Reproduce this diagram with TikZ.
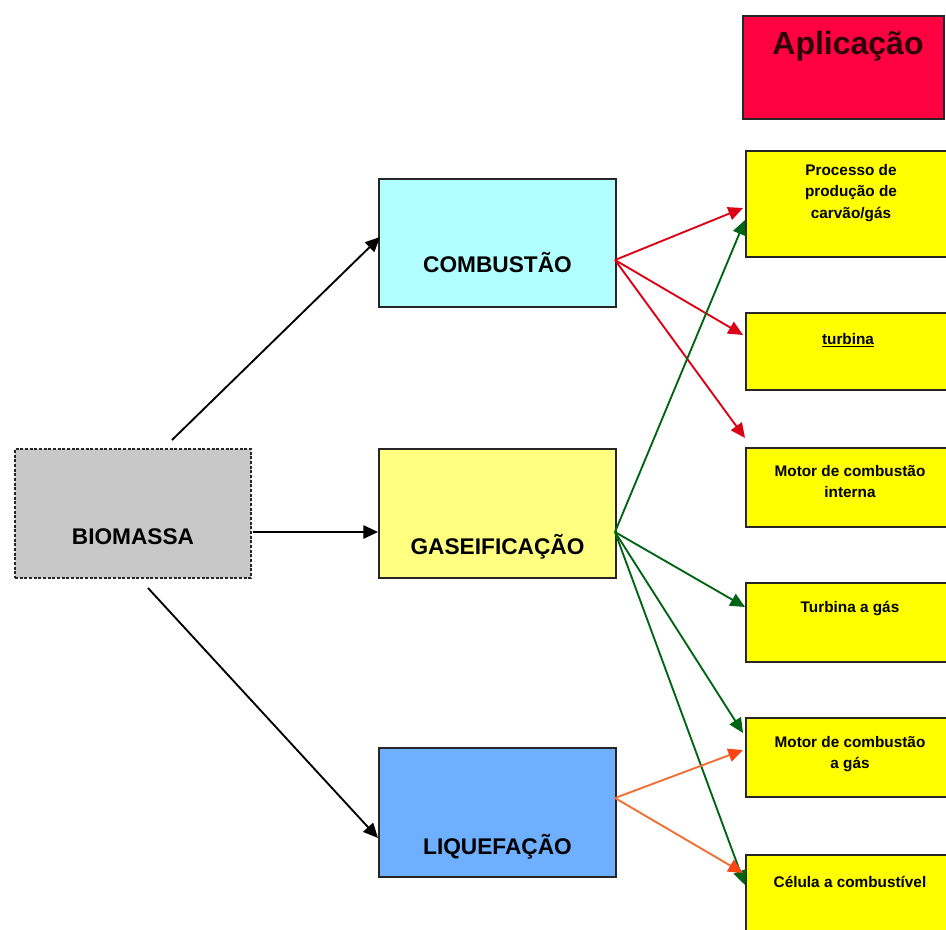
\documentclass[tikz,border=0pt]{standalone}
\usepackage{fontspec}
\setmainfont{Liberation Sans}
\usetikzlibrary{arrows.meta}
\definecolor{aplred}{RGB}{255,0,64}
\definecolor{appyellow}{RGB}{255,255,0}
\definecolor{combcyan}{RGB}{178,255,255}
\definecolor{gasyellow}{RGB}{255,255,128}
\definecolor{liqblue}{RGB}{110,175,255}
\definecolor{biogray}{RGB}{200,200,200}
\definecolor{arrgreen}{RGB}{0,100,20}
\definecolor{arrred}{RGB}{220,0,20}
\definecolor{arrorange}{RGB}{240,110,50}
\definecolor{orangehead}{RGB}{250,70,20}
\definecolor{aplink}{RGB}{45,0,10}
\begin{document}
\begin{tikzpicture}[x=0.75pt,y=-0.75pt,
  box/.style={draw=black!85, line width=1.3pt, rectangle, inner sep=0pt},
  bigtext/.style={font=\fontsize{17}{20}\selectfont\bfseries, inner sep=0pt},
  smalltext/.style={font=\fontsize{11.5}{16}\selectfont\bfseries, align=center, inner sep=0pt},
  conn/.style={line width=1.4pt, -{Triangle[length=11pt,width=10pt]}},
  blackconn/.style={conn, black},
  redconn/.style={conn, arrred},
  greenconn/.style={conn, arrgreen},
  orangeconn/.style={line width=1.4pt, arrorange, -{Triangle[length=11pt,width=10pt,color=orangehead]}},
]
\useasboundingbox (0,0) rectangle (946,929);
\clip (0,0) rectangle (946,929);
\fill[white] (0,0) rectangle (946,929);

% left column
\node[box, fill=biogray, dash pattern=on 2.2pt off 1.3pt, line width=2pt, minimum width=236*0.75pt, minimum height=129*0.75pt] (bio) at (133,513.5) {};
\node[bigtext] (bioT) at (133,537) {BIOMASSA};

% middle column
\node[box, fill=combcyan, minimum width=237*0.75pt, minimum height=128*0.75pt] (comb) at (497.5,243) {};
\node[bigtext] (combT) at (497.5,263) {COMBUSTÃO};
\node[box, fill=gasyellow, minimum width=237*0.75pt, minimum height=129*0.75pt] (gas) at (497.5,513.5) {};
\node[bigtext] (gasT) at (497.5,547) {GASEIFICAÇÃO};
\node[box, fill=liqblue, minimum width=237*0.75pt, minimum height=129*0.75pt] (liq) at (497.5,812.5) {};
\node[bigtext] (liqT) at (497.5,847) {LIQUEFAÇÃO};

% right column
\node[box, fill=aplred, minimum width=201*0.75pt, minimum height=103*0.75pt] (apl) at (843.5,67.5) {};
\node[font=\fontsize{24}{28}\selectfont\bfseries, text=aplink, inner sep=0pt] (aplT) at (848,46) {Aplicação};

\node[box, fill=appyellow, minimum width=234*0.75pt, minimum height=106*0.75pt] (proc) at (863,204) {};
\node[smalltext] (procT) at (851,193) {Processo de\\produção de\\carvão/gás};
\node[box, fill=appyellow, minimum width=234*0.75pt, minimum height=77*0.75pt] (turb) at (863,351.5) {};
\node[smalltext] (turbT) at (848,340) {\underline{turbina}};
\node[box, fill=appyellow, minimum width=234*0.75pt, minimum height=79*0.75pt] (mint) at (863,487.5) {};
\node[smalltext] (mintT) at (850,481.5) {Motor de combustão\\interna};
\node[box, fill=appyellow, minimum width=234*0.75pt, minimum height=79*0.75pt] (tgas) at (863,622.5) {};
\node[smalltext] (tgasT) at (850,608) {Turbina a gás};
\node[box, fill=appyellow, minimum width=234*0.75pt, minimum height=79*0.75pt] (mgas) at (863,757.5) {};
\node[smalltext] (mgasT) at (850,754) {Motor de combustão\\a gás};
\node[box, fill=appyellow, minimum width=234*0.75pt, minimum height=80*0.75pt] (cel) at (863,895) {};
\node[smalltext] (celT) at (850,882) {Célula a combustível};

% connector end points
\coordinate (bioTop) at (172,440);
\coordinate (bioR) at (253,532);
\coordinate (bioBot) at (148,588);
\coordinate (combIn) at (380,237);
\coordinate (gasIn) at (378,532);
\coordinate (liqIn) at (378,838);
\coordinate (combOut) at (615,260);
\coordinate (gasOut) at (615,532);
\coordinate (liqOut) at (615,798);
\coordinate (procInR) at (743,208);
\coordinate (procInG) at (745,220);
\coordinate (turbIn) at (743,335);
\coordinate (mintIn) at (745,438);
\coordinate (tgasIn) at (745,607);
\coordinate (mgasInG) at (743,733);
\coordinate (mgasInO) at (743,750);
\coordinate (celInO) at (743,873);
\coordinate (celInG) at (745,885);

% connectors
\draw[blackconn] (bioTop) -- (combIn);
\draw[blackconn] (bioR) -- (gasIn);
\draw[blackconn] (bioBot) -- (liqIn);

\draw[redconn] (combOut) -- (turbIn);
\draw[redconn] (combOut) -- (mintIn);

\draw[greenconn] (gasOut) -- (procInG);
\draw[greenconn] (gasOut) -- (tgasIn);
\draw[greenconn] (gasOut) -- (mgasInG);
\draw[greenconn] (gasOut) -- (celInG);

\draw[redconn] (combOut) -- (procInR);

\draw[orangeconn] (liqOut) -- (mgasInO);
\draw[orangeconn] (liqOut) -- (celInO);
\end{tikzpicture}
\end{document}
